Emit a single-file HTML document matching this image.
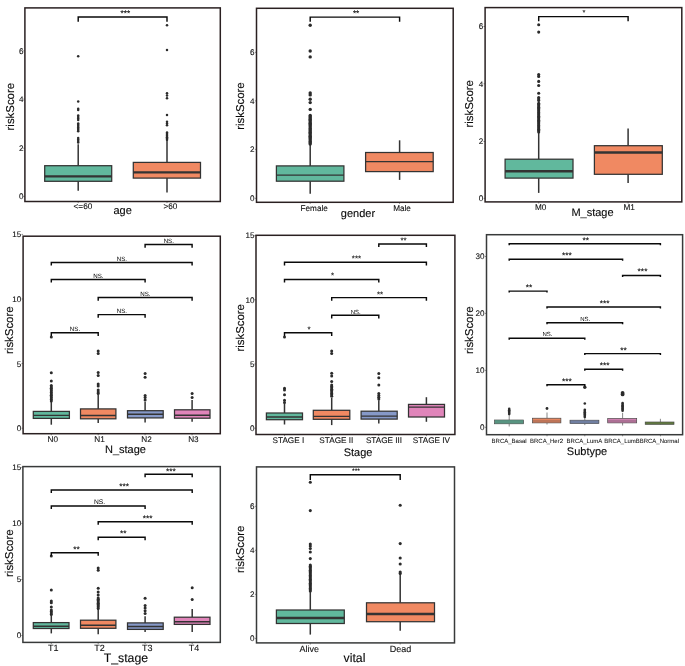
<!DOCTYPE html>
<html><head><meta charset="utf-8"><title>riskScore clinical boxplots</title>
<style>
html,body{margin:0;padding:0;background:#fff;}
svg{display:block;filter:blur(0.3px);text-rendering:geometricPrecision;font-family:"Liberation Sans",Arial,Helvetica,sans-serif;}
</style></head><body>
<svg width="685" height="666" viewBox="0 0 685 666">
<rect x="0" y="0" width="685" height="666" fill="#ffffff"/>
<text x="23.4" y="199.45" font-size="8.1" text-anchor="end" fill="#111" stroke="#111" stroke-width="0.1">0</text>
<line x1="23.3" y1="196.5" x2="24.9" y2="196.5" stroke="#444" stroke-width="0.6"/>
<text x="23.4" y="151.15" font-size="8.1" text-anchor="end" fill="#111" stroke="#111" stroke-width="0.1">2</text>
<line x1="23.3" y1="148.2" x2="24.9" y2="148.2" stroke="#444" stroke-width="0.6"/>
<text x="23.4" y="102.05" font-size="8.1" text-anchor="end" fill="#111" stroke="#111" stroke-width="0.1">4</text>
<line x1="23.3" y1="99.1" x2="24.9" y2="99.1" stroke="#444" stroke-width="0.6"/>
<text x="23.4" y="53.75" font-size="8.1" text-anchor="end" fill="#111" stroke="#111" stroke-width="0.1">6</text>
<line x1="23.3" y1="50.8" x2="24.9" y2="50.8" stroke="#444" stroke-width="0.6"/>
<line x1="78.2" y1="144.3" x2="78.2" y2="165.7" stroke="#333333" stroke-width="1.5"/>
<line x1="78.2" y1="181.3" x2="78.2" y2="190.7" stroke="#333333" stroke-width="1.5"/>
<rect x="44.7" y="165.7" width="67" height="15.6" fill="#61B89D" stroke="#333333" stroke-width="1.25"/>
<line x1="44.7" y1="176.3" x2="111.7" y2="176.3" stroke="#333333" stroke-width="2.2"/>
<line x1="78.2" y1="201.5" x2="78.2" y2="203.1" stroke="#444" stroke-width="0.6"/>
<line x1="167" y1="139.7" x2="167" y2="162.4" stroke="#333333" stroke-width="1.5"/>
<line x1="167" y1="178.1" x2="167" y2="192.5" stroke="#333333" stroke-width="1.5"/>
<rect x="133.3" y="162.4" width="67.2" height="15.7" fill="#F08962" stroke="#333333" stroke-width="1.25"/>
<line x1="133.3" y1="172.4" x2="200.5" y2="172.4" stroke="#333333" stroke-width="2.4"/>
<line x1="167" y1="201.5" x2="167" y2="203.1" stroke="#444" stroke-width="0.6"/>
<circle cx="78.2" cy="56.2" r="1.25" fill="#2b2b2b"/>
<circle cx="78.2" cy="101.6" r="1.25" fill="#2b2b2b"/>
<circle cx="78.2" cy="108.7" r="1.25" fill="#2b2b2b"/>
<circle cx="78.2" cy="110" r="1.25" fill="#2b2b2b"/>
<circle cx="78.2" cy="115.5" r="1.25" fill="#2b2b2b"/>
<circle cx="78.2" cy="117" r="1.25" fill="#2b2b2b"/>
<circle cx="78.2" cy="118.5" r="1.25" fill="#2b2b2b"/>
<circle cx="78.2" cy="120" r="1.25" fill="#2b2b2b"/>
<circle cx="78.2" cy="123.5" r="1.25" fill="#2b2b2b"/>
<circle cx="78.2" cy="124.8" r="1.25" fill="#2b2b2b"/>
<circle cx="78.2" cy="126.1" r="1.25" fill="#2b2b2b"/>
<circle cx="78.2" cy="127.4" r="1.25" fill="#2b2b2b"/>
<circle cx="78.2" cy="128.7" r="1.25" fill="#2b2b2b"/>
<circle cx="78.2" cy="130" r="1.25" fill="#2b2b2b"/>
<circle cx="78.2" cy="131.3" r="1.25" fill="#2b2b2b"/>
<circle cx="78.2" cy="138" r="1.25" fill="#2b2b2b"/>
<circle cx="78.2" cy="139.5" r="1.25" fill="#2b2b2b"/>
<circle cx="78.2" cy="141" r="1.25" fill="#2b2b2b"/>
<circle cx="78.2" cy="142.4" r="1.25" fill="#2b2b2b"/>
<circle cx="167" cy="25.2" r="1.25" fill="#2b2b2b"/>
<circle cx="167" cy="50.1" r="1.25" fill="#2b2b2b"/>
<circle cx="167" cy="93.3" r="1.25" fill="#2b2b2b"/>
<circle cx="167" cy="95.5" r="1.25" fill="#2b2b2b"/>
<circle cx="167" cy="98.2" r="1.25" fill="#2b2b2b"/>
<circle cx="167" cy="115" r="1.25" fill="#2b2b2b"/>
<circle cx="167" cy="121.7" r="1.25" fill="#2b2b2b"/>
<circle cx="167" cy="123.5" r="1.25" fill="#2b2b2b"/>
<circle cx="167" cy="125.3" r="1.25" fill="#2b2b2b"/>
<circle cx="167" cy="132.5" r="1.25" fill="#2b2b2b"/>
<circle cx="167" cy="133.7" r="1.25" fill="#2b2b2b"/>
<circle cx="167" cy="134.9" r="1.25" fill="#2b2b2b"/>
<circle cx="167" cy="136.1" r="1.25" fill="#2b2b2b"/>
<circle cx="167" cy="137.3" r="1.25" fill="#2b2b2b"/>
<circle cx="167" cy="138.5" r="1.25" fill="#2b2b2b"/>
<circle cx="167" cy="139.7" r="1.25" fill="#2b2b2b"/>
<path d="M78.2 21.7V16.9H167V21.7" fill="none" stroke="#0a0a0a" stroke-width="1.45"/>
<text x="125.3" y="16.17" font-size="8.2" text-anchor="middle" fill="#000" stroke="#000" stroke-width="0.08">***</text>
<text x="82.9" y="209.2" font-size="8.2" text-anchor="middle" fill="#111" stroke="#111" stroke-width="0.1">&lt;=60</text>
<text x="170.4" y="209.2" font-size="8.2" text-anchor="middle" fill="#111" stroke="#111" stroke-width="0.1">&gt;60</text>
<text x="122.6" y="213.6" font-size="11" text-anchor="middle" fill="#0a0a0a" stroke="#0a0a0a" stroke-width="0.12">age</text>
<text transform="translate(13.5 106.7) rotate(-90)" font-size="11.4" text-anchor="middle" fill="#0a0a0a" stroke="#0a0a0a" stroke-width="0.12">riskScore</text>
<rect x="24.9" y="7.9" width="195.4" height="193.6" fill="none" stroke="#2a2021" stroke-width="1.5"/>
<text x="254.4" y="201.25" font-size="8.1" text-anchor="end" fill="#111" stroke="#111" stroke-width="0.1">0</text>
<line x1="254.9" y1="198.3" x2="256.5" y2="198.3" stroke="#444" stroke-width="0.6"/>
<text x="254.4" y="152.25" font-size="8.1" text-anchor="end" fill="#111" stroke="#111" stroke-width="0.1">2</text>
<line x1="254.9" y1="149.3" x2="256.5" y2="149.3" stroke="#444" stroke-width="0.6"/>
<text x="254.4" y="103.85" font-size="8.1" text-anchor="end" fill="#111" stroke="#111" stroke-width="0.1">4</text>
<line x1="254.9" y1="100.9" x2="256.5" y2="100.9" stroke="#444" stroke-width="0.6"/>
<text x="254.4" y="55.25" font-size="8.1" text-anchor="end" fill="#111" stroke="#111" stroke-width="0.1">6</text>
<line x1="254.9" y1="52.3" x2="256.5" y2="52.3" stroke="#444" stroke-width="0.6"/>
<line x1="310.2" y1="144.2" x2="310.2" y2="165.9" stroke="#333333" stroke-width="1.5"/>
<line x1="310.2" y1="181.2" x2="310.2" y2="193.8" stroke="#333333" stroke-width="1.5"/>
<rect x="276.4" y="165.9" width="67.5" height="15.3" fill="#61B89D" stroke="#333333" stroke-width="1.25"/>
<line x1="276.4" y1="175.2" x2="343.9" y2="175.2" stroke="#333333" stroke-width="1.3"/>
<line x1="310.2" y1="202.3" x2="310.2" y2="203.9" stroke="#444" stroke-width="0.6"/>
<line x1="399.6" y1="140.3" x2="399.6" y2="152.5" stroke="#333333" stroke-width="1.5"/>
<line x1="399.6" y1="171.6" x2="399.6" y2="179.9" stroke="#333333" stroke-width="1.5"/>
<rect x="365.6" y="152.5" width="67.6" height="19.1" fill="#F08962" stroke="#333333" stroke-width="1.25"/>
<line x1="365.6" y1="161.7" x2="433.2" y2="161.7" stroke="#333333" stroke-width="1.3"/>
<line x1="399.6" y1="202.3" x2="399.6" y2="203.9" stroke="#444" stroke-width="0.6"/>
<circle cx="310.2" cy="25.2" r="1.7" fill="#2b2b2b"/>
<circle cx="310.2" cy="51" r="1.7" fill="#2b2b2b"/>
<circle cx="310.2" cy="56.9" r="1.7" fill="#2b2b2b"/>
<circle cx="310.2" cy="93" r="1.7" fill="#2b2b2b"/>
<circle cx="310.2" cy="94.9" r="1.7" fill="#2b2b2b"/>
<circle cx="310.2" cy="99.2" r="1.7" fill="#2b2b2b"/>
<circle cx="310.2" cy="102.6" r="1.7" fill="#2b2b2b"/>
<circle cx="310.2" cy="109.4" r="1.7" fill="#2b2b2b"/>
<circle cx="310.2" cy="115.4" r="1.7" fill="#2b2b2b"/>
<circle cx="310.2" cy="116.7" r="1.7" fill="#2b2b2b"/>
<circle cx="310.2" cy="118" r="1.7" fill="#2b2b2b"/>
<circle cx="310.2" cy="119.3" r="1.7" fill="#2b2b2b"/>
<circle cx="310.2" cy="120.6" r="1.7" fill="#2b2b2b"/>
<circle cx="310.2" cy="121.9" r="1.7" fill="#2b2b2b"/>
<circle cx="310.2" cy="123.2" r="1.7" fill="#2b2b2b"/>
<circle cx="310.2" cy="124.5" r="1.7" fill="#2b2b2b"/>
<circle cx="310.2" cy="125.8" r="1.7" fill="#2b2b2b"/>
<circle cx="310.2" cy="127.1" r="1.7" fill="#2b2b2b"/>
<circle cx="310.2" cy="128.4" r="1.7" fill="#2b2b2b"/>
<circle cx="310.2" cy="129.7" r="1.7" fill="#2b2b2b"/>
<circle cx="310.2" cy="131" r="1.7" fill="#2b2b2b"/>
<circle cx="310.2" cy="132.3" r="1.7" fill="#2b2b2b"/>
<circle cx="310.2" cy="133.6" r="1.7" fill="#2b2b2b"/>
<circle cx="310.2" cy="134.9" r="1.7" fill="#2b2b2b"/>
<circle cx="310.2" cy="136.2" r="1.7" fill="#2b2b2b"/>
<circle cx="310.2" cy="137.5" r="1.7" fill="#2b2b2b"/>
<circle cx="310.2" cy="138.8" r="1.7" fill="#2b2b2b"/>
<circle cx="310.2" cy="140.1" r="1.7" fill="#2b2b2b"/>
<circle cx="310.2" cy="141.4" r="1.7" fill="#2b2b2b"/>
<circle cx="310.2" cy="142.7" r="1.7" fill="#2b2b2b"/>
<circle cx="310.2" cy="144" r="1.7" fill="#2b2b2b"/>
<path d="M310.2 21.7V17.1H399.6V21.7" fill="none" stroke="#0a0a0a" stroke-width="1.45"/>
<text x="356.1" y="16.17" font-size="8.2" text-anchor="middle" fill="#000" stroke="#000" stroke-width="0.08">**</text>
<text x="314.2" y="211.3" font-size="8.2" text-anchor="middle" fill="#111" stroke="#111" stroke-width="0.1">Female</text>
<text x="402" y="211.3" font-size="8.2" text-anchor="middle" fill="#111" stroke="#111" stroke-width="0.1">Male</text>
<text x="358" y="216.8" font-size="11" text-anchor="middle" fill="#0a0a0a" stroke="#0a0a0a" stroke-width="0.12">gender</text>
<text transform="translate(244.4 106.1) rotate(-90)" font-size="11.4" text-anchor="middle" fill="#0a0a0a" stroke="#0a0a0a" stroke-width="0.12">riskScore</text>
<rect x="256.5" y="8.3" width="196.7" height="194" fill="none" stroke="#2a2021" stroke-width="1.5"/>
<text x="483.2" y="201.25" font-size="8.1" text-anchor="end" fill="#111" stroke="#111" stroke-width="0.1">0</text>
<line x1="483.5" y1="198.3" x2="485.1" y2="198.3" stroke="#444" stroke-width="0.6"/>
<text x="483.2" y="144.45" font-size="8.1" text-anchor="end" fill="#111" stroke="#111" stroke-width="0.1">2</text>
<line x1="483.5" y1="141.5" x2="485.1" y2="141.5" stroke="#444" stroke-width="0.6"/>
<text x="483.2" y="86.75" font-size="8.1" text-anchor="end" fill="#111" stroke="#111" stroke-width="0.1">4</text>
<line x1="483.5" y1="83.8" x2="485.1" y2="83.8" stroke="#444" stroke-width="0.6"/>
<text x="483.2" y="29.45" font-size="8.1" text-anchor="end" fill="#111" stroke="#111" stroke-width="0.1">6</text>
<line x1="483.5" y1="26.5" x2="485.1" y2="26.5" stroke="#444" stroke-width="0.6"/>
<line x1="538.7" y1="132.5" x2="538.7" y2="159.2" stroke="#333333" stroke-width="1.5"/>
<line x1="538.7" y1="178.1" x2="538.7" y2="192.9" stroke="#333333" stroke-width="1.5"/>
<rect x="505.1" y="159.2" width="67.9" height="18.9" fill="#61B89D" stroke="#333333" stroke-width="1.25"/>
<line x1="505.1" y1="171.3" x2="573" y2="171.3" stroke="#333333" stroke-width="2.5"/>
<line x1="538.7" y1="201.9" x2="538.7" y2="203.5" stroke="#444" stroke-width="0.6"/>
<line x1="628.1" y1="128.6" x2="628.1" y2="145.7" stroke="#333333" stroke-width="1.5"/>
<line x1="628.1" y1="174.3" x2="628.1" y2="183" stroke="#333333" stroke-width="1.5"/>
<rect x="594.4" y="145.7" width="67.9" height="28.6" fill="#F08962" stroke="#333333" stroke-width="1.25"/>
<line x1="594.4" y1="152.5" x2="662.3" y2="152.5" stroke="#333333" stroke-width="2.5"/>
<line x1="628.1" y1="201.9" x2="628.1" y2="203.5" stroke="#444" stroke-width="0.6"/>
<circle cx="538.7" cy="24.7" r="1.55" fill="#2b2b2b"/>
<circle cx="538.7" cy="32.1" r="1.55" fill="#2b2b2b"/>
<circle cx="538.7" cy="74.6" r="1.55" fill="#2b2b2b"/>
<circle cx="538.7" cy="76.4" r="1.55" fill="#2b2b2b"/>
<circle cx="538.7" cy="81.4" r="1.55" fill="#2b2b2b"/>
<circle cx="538.7" cy="85.5" r="1.55" fill="#2b2b2b"/>
<circle cx="538.7" cy="93.2" r="1.55" fill="#2b2b2b"/>
<circle cx="538.7" cy="97.5" r="1.55" fill="#2b2b2b"/>
<circle cx="538.7" cy="99" r="1.55" fill="#2b2b2b"/>
<circle cx="538.7" cy="100.5" r="1.55" fill="#2b2b2b"/>
<circle cx="538.7" cy="103.3" r="1.55" fill="#2b2b2b"/>
<circle cx="538.7" cy="104.6" r="1.55" fill="#2b2b2b"/>
<circle cx="538.7" cy="105.9" r="1.55" fill="#2b2b2b"/>
<circle cx="538.7" cy="107.2" r="1.55" fill="#2b2b2b"/>
<circle cx="538.7" cy="108.5" r="1.55" fill="#2b2b2b"/>
<circle cx="538.7" cy="109.8" r="1.55" fill="#2b2b2b"/>
<circle cx="538.7" cy="111.1" r="1.55" fill="#2b2b2b"/>
<circle cx="538.7" cy="112.4" r="1.55" fill="#2b2b2b"/>
<circle cx="538.7" cy="113.7" r="1.55" fill="#2b2b2b"/>
<circle cx="538.7" cy="115" r="1.55" fill="#2b2b2b"/>
<circle cx="538.7" cy="116.3" r="1.55" fill="#2b2b2b"/>
<circle cx="538.7" cy="117.6" r="1.55" fill="#2b2b2b"/>
<circle cx="538.7" cy="118.9" r="1.55" fill="#2b2b2b"/>
<circle cx="538.7" cy="120.2" r="1.55" fill="#2b2b2b"/>
<circle cx="538.7" cy="121.5" r="1.55" fill="#2b2b2b"/>
<circle cx="538.7" cy="122.8" r="1.55" fill="#2b2b2b"/>
<circle cx="538.7" cy="124.1" r="1.55" fill="#2b2b2b"/>
<circle cx="538.7" cy="125.4" r="1.55" fill="#2b2b2b"/>
<circle cx="538.7" cy="126.7" r="1.55" fill="#2b2b2b"/>
<circle cx="538.7" cy="128" r="1.55" fill="#2b2b2b"/>
<circle cx="538.7" cy="129.3" r="1.55" fill="#2b2b2b"/>
<circle cx="538.7" cy="130.6" r="1.55" fill="#2b2b2b"/>
<circle cx="538.7" cy="131.9" r="1.55" fill="#2b2b2b"/>
<path d="M538.7 21.3V16.6H628.1V21.3" fill="none" stroke="#0a0a0a" stroke-width="1.45"/>
<text x="584" y="15.32" font-size="7.4" text-anchor="middle" fill="#000" stroke="#000" stroke-width="0.08">*</text>
<text x="540.6" y="210" font-size="8.2" text-anchor="middle" fill="#111" stroke="#111" stroke-width="0.1">M0</text>
<text x="629.1" y="210" font-size="8.2" text-anchor="middle" fill="#111" stroke="#111" stroke-width="0.1">M1</text>
<text x="592.5" y="215.6" font-size="11" text-anchor="middle" fill="#0a0a0a" stroke="#0a0a0a" stroke-width="0.12">M_stage</text>
<text transform="translate(473.3 103.8) rotate(-90)" font-size="11.4" text-anchor="middle" fill="#0a0a0a" stroke="#0a0a0a" stroke-width="0.12">riskScore</text>
<rect x="485.1" y="7.6" width="196.7" height="194.3" fill="none" stroke="#2a2021" stroke-width="1.5"/>
<text x="21.3" y="237.35" font-size="8.1" text-anchor="end" fill="#111" stroke="#111" stroke-width="0.1">15</text>
<line x1="21.5" y1="234.4" x2="23.1" y2="234.4" stroke="#444" stroke-width="0.6"/>
<text x="21.3" y="301.95" font-size="8.1" text-anchor="end" fill="#111" stroke="#111" stroke-width="0.1">10</text>
<line x1="21.5" y1="299" x2="23.1" y2="299" stroke="#444" stroke-width="0.6"/>
<text x="21.3" y="366.55" font-size="8.1" text-anchor="end" fill="#111" stroke="#111" stroke-width="0.1">5</text>
<line x1="21.5" y1="363.6" x2="23.1" y2="363.6" stroke="#444" stroke-width="0.6"/>
<text x="21.3" y="431.15" font-size="8.1" text-anchor="end" fill="#111" stroke="#111" stroke-width="0.1">0</text>
<line x1="21.5" y1="428.2" x2="23.1" y2="428.2" stroke="#444" stroke-width="0.6"/>
<line x1="51.3" y1="401.7" x2="51.3" y2="411.4" stroke="#333333" stroke-width="1.5"/>
<line x1="51.3" y1="418.4" x2="51.3" y2="424.7" stroke="#333333" stroke-width="1.5"/>
<rect x="33.3" y="411.4" width="36.1" height="7" fill="#61B89D" stroke="#333333" stroke-width="1.25"/>
<line x1="33.3" y1="415.4" x2="69.4" y2="415.4" stroke="#333333" stroke-width="1.4"/>
<line x1="51.3" y1="433.7" x2="51.3" y2="435.3" stroke="#444" stroke-width="0.6"/>
<line x1="98.2" y1="394.5" x2="98.2" y2="408.9" stroke="#333333" stroke-width="1.5"/>
<line x1="98.2" y1="418.8" x2="98.2" y2="422.9" stroke="#333333" stroke-width="1.5"/>
<rect x="80.5" y="408.9" width="35.4" height="9.9" fill="#F08962" stroke="#333333" stroke-width="1.25"/>
<line x1="80.5" y1="415.5" x2="115.9" y2="415.5" stroke="#333333" stroke-width="1.4"/>
<line x1="98.2" y1="433.7" x2="98.2" y2="435.3" stroke="#444" stroke-width="0.6"/>
<line x1="145.1" y1="401.7" x2="145.1" y2="410.7" stroke="#333333" stroke-width="1.5"/>
<line x1="145.1" y1="417.9" x2="145.1" y2="422.4" stroke="#333333" stroke-width="1.5"/>
<rect x="127.5" y="410.7" width="35.7" height="7.2" fill="#8699C8" stroke="#333333" stroke-width="1.25"/>
<line x1="127.5" y1="414.3" x2="163.2" y2="414.3" stroke="#333333" stroke-width="1.4"/>
<line x1="145.1" y1="433.7" x2="145.1" y2="435.3" stroke="#444" stroke-width="0.6"/>
<line x1="192.1" y1="399.9" x2="192.1" y2="409.8" stroke="#333333" stroke-width="1.5"/>
<line x1="192.1" y1="418.2" x2="192.1" y2="421.8" stroke="#333333" stroke-width="1.5"/>
<rect x="174.5" y="409.8" width="35.5" height="8.4" fill="#E085BA" stroke="#333333" stroke-width="1.25"/>
<line x1="174.5" y1="415.2" x2="210" y2="415.2" stroke="#333333" stroke-width="1.4"/>
<line x1="192.1" y1="433.7" x2="192.1" y2="435.3" stroke="#444" stroke-width="0.6"/>
<circle cx="51.3" cy="337.1" r="1.5" fill="#2b2b2b"/>
<circle cx="51.3" cy="372.8" r="1.5" fill="#2b2b2b"/>
<circle cx="51.3" cy="380.9" r="1.5" fill="#2b2b2b"/>
<circle cx="51.3" cy="385.5" r="1.5" fill="#2b2b2b"/>
<circle cx="51.3" cy="386.9" r="1.5" fill="#2b2b2b"/>
<circle cx="51.3" cy="388.3" r="1.5" fill="#2b2b2b"/>
<circle cx="51.3" cy="389.7" r="1.5" fill="#2b2b2b"/>
<circle cx="51.3" cy="391.1" r="1.5" fill="#2b2b2b"/>
<circle cx="51.3" cy="392.5" r="1.5" fill="#2b2b2b"/>
<circle cx="51.3" cy="393.9" r="1.5" fill="#2b2b2b"/>
<circle cx="51.3" cy="395.3" r="1.5" fill="#2b2b2b"/>
<circle cx="51.3" cy="396.7" r="1.5" fill="#2b2b2b"/>
<circle cx="51.3" cy="398.1" r="1.5" fill="#2b2b2b"/>
<circle cx="51.3" cy="399.5" r="1.5" fill="#2b2b2b"/>
<circle cx="51.3" cy="400.9" r="1.5" fill="#2b2b2b"/>
<circle cx="98.2" cy="350.9" r="1.5" fill="#2b2b2b"/>
<circle cx="98.2" cy="353.4" r="1.5" fill="#2b2b2b"/>
<circle cx="98.2" cy="372.5" r="1.5" fill="#2b2b2b"/>
<circle cx="98.2" cy="375.5" r="1.5" fill="#2b2b2b"/>
<circle cx="98.2" cy="384" r="1.5" fill="#2b2b2b"/>
<circle cx="98.2" cy="386" r="1.5" fill="#2b2b2b"/>
<circle cx="98.2" cy="390" r="1.5" fill="#2b2b2b"/>
<circle cx="98.2" cy="392" r="1.5" fill="#2b2b2b"/>
<circle cx="98.2" cy="393.6" r="1.5" fill="#2b2b2b"/>
<circle cx="145.1" cy="373.4" r="1.5" fill="#2b2b2b"/>
<circle cx="145.1" cy="377.3" r="1.5" fill="#2b2b2b"/>
<circle cx="145.1" cy="395.4" r="1.5" fill="#2b2b2b"/>
<circle cx="145.1" cy="397.5" r="1.5" fill="#2b2b2b"/>
<circle cx="145.1" cy="399.9" r="1.5" fill="#2b2b2b"/>
<circle cx="192.1" cy="393.6" r="1.5" fill="#2b2b2b"/>
<circle cx="192.1" cy="397.5" r="1.5" fill="#2b2b2b"/>
<path d="M51.3 335.9V332.7H98.2V335.9" fill="none" stroke="#0a0a0a" stroke-width="1.45"/>
<text x="74.95" y="331.1" font-size="6.2" text-anchor="middle" fill="#000" stroke="#000" stroke-width="0">NS.</text>
<path d="M98.2 317.8V314.6H145.1V317.8" fill="none" stroke="#0a0a0a" stroke-width="1.45"/>
<text x="121.85" y="313" font-size="6.2" text-anchor="middle" fill="#000" stroke="#000" stroke-width="0">NS.</text>
<path d="M98.2 300.7V297.5H192.1V300.7" fill="none" stroke="#0a0a0a" stroke-width="1.45"/>
<text x="145.35" y="295.9" font-size="6.2" text-anchor="middle" fill="#000" stroke="#000" stroke-width="0">NS.</text>
<path d="M51.3 282.6V279.4H145.1V282.6" fill="none" stroke="#0a0a0a" stroke-width="1.45"/>
<text x="98.4" y="277.8" font-size="6.2" text-anchor="middle" fill="#000" stroke="#000" stroke-width="0">NS.</text>
<path d="M51.3 265.6V262.4H192.1V265.6" fill="none" stroke="#0a0a0a" stroke-width="1.45"/>
<text x="121.9" y="260.8" font-size="6.2" text-anchor="middle" fill="#000" stroke="#000" stroke-width="0">NS.</text>
<path d="M145.1 247.7V244.5H192.1V247.7" fill="none" stroke="#0a0a0a" stroke-width="1.45"/>
<text x="168.8" y="242.9" font-size="6.2" text-anchor="middle" fill="#000" stroke="#000" stroke-width="0">NS.</text>
<text x="52.8" y="441.6" font-size="8.2" text-anchor="middle" fill="#111" stroke="#111" stroke-width="0.1">N0</text>
<text x="99.5" y="441.6" font-size="8.2" text-anchor="middle" fill="#111" stroke="#111" stroke-width="0.1">N1</text>
<text x="146.6" y="441.6" font-size="8.2" text-anchor="middle" fill="#111" stroke="#111" stroke-width="0.1">N2</text>
<text x="193.4" y="441.6" font-size="8.2" text-anchor="middle" fill="#111" stroke="#111" stroke-width="0.1">N3</text>
<text x="125.5" y="452.9" font-size="11" text-anchor="middle" fill="#0a0a0a" stroke="#0a0a0a" stroke-width="0.12">N_stage</text>
<text transform="translate(13.2 330.2) rotate(-90)" font-size="11.4" text-anchor="middle" fill="#0a0a0a" stroke="#0a0a0a" stroke-width="0.12">riskScore</text>
<rect x="23.1" y="236.2" width="197.2" height="197.5" fill="none" stroke="#2a2021" stroke-width="1.5"/>
<text x="254.4" y="238.45" font-size="8.1" text-anchor="end" fill="#111" stroke="#111" stroke-width="0.1">15</text>
<line x1="254.4" y1="235.5" x2="256" y2="235.5" stroke="#444" stroke-width="0.6"/>
<text x="254.4" y="302.65" font-size="8.1" text-anchor="end" fill="#111" stroke="#111" stroke-width="0.1">10</text>
<line x1="254.4" y1="299.7" x2="256" y2="299.7" stroke="#444" stroke-width="0.6"/>
<text x="254.4" y="366.95" font-size="8.1" text-anchor="end" fill="#111" stroke="#111" stroke-width="0.1">5</text>
<line x1="254.4" y1="364" x2="256" y2="364" stroke="#444" stroke-width="0.6"/>
<text x="254.4" y="431.15" font-size="8.1" text-anchor="end" fill="#111" stroke="#111" stroke-width="0.1">0</text>
<line x1="254.4" y1="428.2" x2="256" y2="428.2" stroke="#444" stroke-width="0.6"/>
<line x1="284.5" y1="403.5" x2="284.5" y2="413" stroke="#333333" stroke-width="1.5"/>
<line x1="284.5" y1="419.7" x2="284.5" y2="424.5" stroke="#333333" stroke-width="1.5"/>
<rect x="266.4" y="413" width="36.1" height="6.7" fill="#61B89D" stroke="#333333" stroke-width="1.25"/>
<line x1="266.4" y1="417" x2="302.5" y2="417" stroke="#333333" stroke-width="1.4"/>
<line x1="284.5" y1="434.5" x2="284.5" y2="436.1" stroke="#444" stroke-width="0.6"/>
<line x1="331.7" y1="398" x2="331.7" y2="410.3" stroke="#333333" stroke-width="1.5"/>
<line x1="331.7" y1="419.3" x2="331.7" y2="425.1" stroke="#333333" stroke-width="1.5"/>
<rect x="313.3" y="410.3" width="36.5" height="9" fill="#F08962" stroke="#333333" stroke-width="1.25"/>
<line x1="313.3" y1="416.4" x2="349.8" y2="416.4" stroke="#333333" stroke-width="1.4"/>
<line x1="331.7" y1="434.5" x2="331.7" y2="436.1" stroke="#444" stroke-width="0.6"/>
<line x1="378.8" y1="400.2" x2="378.8" y2="411.2" stroke="#333333" stroke-width="1.5"/>
<line x1="378.8" y1="419.1" x2="378.8" y2="423.6" stroke="#333333" stroke-width="1.5"/>
<rect x="361.1" y="411.2" width="36.1" height="7.9" fill="#8699C8" stroke="#333333" stroke-width="1.25"/>
<line x1="361.1" y1="416.1" x2="397.2" y2="416.1" stroke="#333333" stroke-width="1.4"/>
<line x1="378.8" y1="434.5" x2="378.8" y2="436.1" stroke="#444" stroke-width="0.6"/>
<line x1="426.4" y1="397.2" x2="426.4" y2="404.4" stroke="#333333" stroke-width="1.5"/>
<line x1="426.4" y1="417" x2="426.4" y2="421.8" stroke="#333333" stroke-width="1.5"/>
<rect x="408.5" y="404.4" width="36" height="12.6" fill="#E085BA" stroke="#333333" stroke-width="1.25"/>
<line x1="408.5" y1="407.1" x2="444.5" y2="407.1" stroke="#333333" stroke-width="1.4"/>
<line x1="426.4" y1="434.5" x2="426.4" y2="436.1" stroke="#444" stroke-width="0.6"/>
<circle cx="284.5" cy="337.1" r="1.5" fill="#2b2b2b"/>
<circle cx="284.5" cy="388.2" r="1.5" fill="#2b2b2b"/>
<circle cx="284.5" cy="390" r="1.5" fill="#2b2b2b"/>
<circle cx="284.5" cy="394.8" r="1.5" fill="#2b2b2b"/>
<circle cx="284.5" cy="400.2" r="1.5" fill="#2b2b2b"/>
<circle cx="284.5" cy="402.6" r="1.5" fill="#2b2b2b"/>
<circle cx="331.7" cy="350.9" r="1.5" fill="#2b2b2b"/>
<circle cx="331.7" cy="353.4" r="1.5" fill="#2b2b2b"/>
<circle cx="331.7" cy="373.2" r="1.5" fill="#2b2b2b"/>
<circle cx="331.7" cy="376.1" r="1.5" fill="#2b2b2b"/>
<circle cx="331.7" cy="381.5" r="1.5" fill="#2b2b2b"/>
<circle cx="331.7" cy="385" r="1.5" fill="#2b2b2b"/>
<circle cx="331.7" cy="386.4" r="1.5" fill="#2b2b2b"/>
<circle cx="331.7" cy="387.8" r="1.5" fill="#2b2b2b"/>
<circle cx="331.7" cy="389.2" r="1.5" fill="#2b2b2b"/>
<circle cx="331.7" cy="390.6" r="1.5" fill="#2b2b2b"/>
<circle cx="331.7" cy="392" r="1.5" fill="#2b2b2b"/>
<circle cx="331.7" cy="393.4" r="1.5" fill="#2b2b2b"/>
<circle cx="331.7" cy="394.8" r="1.5" fill="#2b2b2b"/>
<circle cx="331.7" cy="396.2" r="1.5" fill="#2b2b2b"/>
<circle cx="378.8" cy="373.4" r="1.5" fill="#2b2b2b"/>
<circle cx="378.8" cy="377.7" r="1.5" fill="#2b2b2b"/>
<circle cx="378.8" cy="384.9" r="1.5" fill="#2b2b2b"/>
<circle cx="378.8" cy="393.6" r="1.5" fill="#2b2b2b"/>
<circle cx="378.8" cy="395.4" r="1.5" fill="#2b2b2b"/>
<circle cx="378.8" cy="397.2" r="1.5" fill="#2b2b2b"/>
<circle cx="378.8" cy="399" r="1.5" fill="#2b2b2b"/>
<path d="M284.5 335.9V332.7H331.7V335.9" fill="none" stroke="#0a0a0a" stroke-width="1.45"/>
<text x="309.1" y="331.7" font-size="7.9" text-anchor="middle" fill="#000" stroke="#000" stroke-width="0.08">*</text>
<path d="M331.7 318.5V315.3H378.8V318.5" fill="none" stroke="#0a0a0a" stroke-width="1.45"/>
<text x="355.75" y="313.75" font-size="6.0" text-anchor="middle" fill="#000" stroke="#000" stroke-width="0">NS.</text>
<path d="M331.7 300.8V297.6H426.4V300.8" fill="none" stroke="#0a0a0a" stroke-width="1.45"/>
<text x="380.05" y="296.6" font-size="7.9" text-anchor="middle" fill="#000" stroke="#000" stroke-width="0.08">**</text>
<path d="M284.5 282.6V279.4H378.8V282.6" fill="none" stroke="#0a0a0a" stroke-width="1.45"/>
<text x="332.65" y="278.4" font-size="7.9" text-anchor="middle" fill="#000" stroke="#000" stroke-width="0.08">*</text>
<path d="M284.5 265.5V262.3H426.4V265.5" fill="none" stroke="#0a0a0a" stroke-width="1.45"/>
<text x="356.45" y="261.3" font-size="7.9" text-anchor="middle" fill="#000" stroke="#000" stroke-width="0.08">***</text>
<path d="M378.8 247.1V243.9H426.4V247.1" fill="none" stroke="#0a0a0a" stroke-width="1.45"/>
<text x="403.6" y="242.9" font-size="7.9" text-anchor="middle" fill="#000" stroke="#000" stroke-width="0.08">**</text>
<text x="288.4" y="443.2" font-size="8.2" text-anchor="middle" fill="#111" stroke="#111" stroke-width="0.1">STAGE I</text>
<text x="336.3" y="443.2" font-size="8.2" text-anchor="middle" fill="#111" stroke="#111" stroke-width="0.1">STAGE II</text>
<text x="384" y="443.2" font-size="8.2" text-anchor="middle" fill="#111" stroke="#111" stroke-width="0.1">STAGE III</text>
<text x="431.4" y="443.2" font-size="8.2" text-anchor="middle" fill="#111" stroke="#111" stroke-width="0.1">STAGE IV</text>
<text x="358" y="455.6" font-size="11" text-anchor="middle" fill="#0a0a0a" stroke="#0a0a0a" stroke-width="0.12">Stage</text>
<text transform="translate(243.9 327.8) rotate(-90)" font-size="11.4" text-anchor="middle" fill="#0a0a0a" stroke="#0a0a0a" stroke-width="0.12">riskScore</text>
<rect x="256" y="235.3" width="198.9" height="199.2" fill="none" stroke="#2a2021" stroke-width="1.5"/>
<text x="484.6" y="259.45" font-size="8.1" text-anchor="end" fill="#111" stroke="#111" stroke-width="0.1">30</text>
<line x1="484.9" y1="256.5" x2="486.5" y2="256.5" stroke="#444" stroke-width="0.6"/>
<text x="484.6" y="316.35" font-size="8.1" text-anchor="end" fill="#111" stroke="#111" stroke-width="0.1">20</text>
<line x1="484.9" y1="313.4" x2="486.5" y2="313.4" stroke="#444" stroke-width="0.6"/>
<text x="484.6" y="373.35" font-size="8.1" text-anchor="end" fill="#111" stroke="#111" stroke-width="0.1">10</text>
<line x1="484.9" y1="370.4" x2="486.5" y2="370.4" stroke="#444" stroke-width="0.6"/>
<text x="484.6" y="430.25" font-size="8.1" text-anchor="end" fill="#111" stroke="#111" stroke-width="0.1">0</text>
<line x1="484.9" y1="427.3" x2="486.5" y2="427.3" stroke="#444" stroke-width="0.6"/>
<line x1="509.2" y1="415.2" x2="509.2" y2="420" stroke="#555" stroke-width="0.7"/>
<line x1="509.2" y1="423.8" x2="509.2" y2="426.5" stroke="#555" stroke-width="0.7"/>
<rect x="494.6" y="420" width="28.9" height="3.8" fill="#5fae95" stroke="#444" stroke-width="0.65"/>
<line x1="494.6" y1="422" x2="523.5" y2="422" stroke="#444" stroke-width="0.5"/>
<line x1="509.2" y1="434.7" x2="509.2" y2="436.3" stroke="#444" stroke-width="0.6"/>
<line x1="547" y1="412.5" x2="547" y2="418.2" stroke="#555" stroke-width="0.7"/>
<line x1="547" y1="422.9" x2="547" y2="424.5" stroke="#555" stroke-width="0.7"/>
<rect x="532.5" y="418.2" width="28.4" height="4.7" fill="#e6855f" stroke="#444" stroke-width="0.65"/>
<line x1="532.5" y1="421" x2="560.9" y2="421" stroke="#444" stroke-width="0.5"/>
<line x1="547" y1="434.7" x2="547" y2="436.3" stroke="#444" stroke-width="0.6"/>
<line x1="584.8" y1="417.9" x2="584.8" y2="420.2" stroke="#555" stroke-width="0.7"/>
<line x1="584.8" y1="423.6" x2="584.8" y2="425.1" stroke="#555" stroke-width="0.7"/>
<rect x="570" y="420.2" width="28.9" height="3.4" fill="#7f92c0" stroke="#444" stroke-width="0.65"/>
<line x1="570" y1="422" x2="598.9" y2="422" stroke="#444" stroke-width="0.5"/>
<line x1="584.8" y1="434.7" x2="584.8" y2="436.3" stroke="#444" stroke-width="0.6"/>
<line x1="622.6" y1="412.8" x2="622.6" y2="418.4" stroke="#555" stroke-width="0.7"/>
<line x1="622.6" y1="422.9" x2="622.6" y2="425.5" stroke="#555" stroke-width="0.7"/>
<rect x="607.7" y="418.4" width="29" height="4.5" fill="#d07fb0" stroke="#444" stroke-width="0.65"/>
<line x1="607.7" y1="421" x2="636.7" y2="421" stroke="#444" stroke-width="0.5"/>
<line x1="622.6" y1="434.7" x2="622.6" y2="436.3" stroke="#444" stroke-width="0.6"/>
<line x1="660.4" y1="418.8" x2="660.4" y2="422" stroke="#555" stroke-width="0.7"/>
<line x1="660.4" y1="424.4" x2="660.4" y2="424.7" stroke="#555" stroke-width="0.7"/>
<rect x="645.2" y="422" width="28.8" height="2.4" fill="#6E9141" stroke="#444" stroke-width="0.65"/>
<line x1="645.2" y1="423.2" x2="674" y2="423.2" stroke="#444" stroke-width="0.5"/>
<line x1="660.4" y1="434.7" x2="660.4" y2="436.3" stroke="#444" stroke-width="0.6"/>
<circle cx="509.2" cy="408.9" r="1.3" fill="#2b2b2b"/>
<circle cx="509.2" cy="410.2" r="1.3" fill="#2b2b2b"/>
<circle cx="509.2" cy="411.5" r="1.3" fill="#2b2b2b"/>
<circle cx="509.2" cy="412.8" r="1.3" fill="#2b2b2b"/>
<circle cx="509.2" cy="414.1" r="1.3" fill="#2b2b2b"/>
<circle cx="547" cy="408.5" r="1.4" fill="#2b2b2b"/>
<circle cx="584.8" cy="387.3" r="1.7" fill="#2b2b2b"/>
<circle cx="584.8" cy="403.5" r="1.3" fill="#2b2b2b"/>
<circle cx="584.8" cy="409.8" r="1.3" fill="#2b2b2b"/>
<circle cx="584.8" cy="411" r="1.3" fill="#2b2b2b"/>
<circle cx="584.8" cy="412.2" r="1.3" fill="#2b2b2b"/>
<circle cx="584.8" cy="413.4" r="1.3" fill="#2b2b2b"/>
<circle cx="584.8" cy="414.6" r="1.3" fill="#2b2b2b"/>
<circle cx="584.8" cy="415.8" r="1.3" fill="#2b2b2b"/>
<circle cx="584.8" cy="417" r="1.3" fill="#2b2b2b"/>
<circle cx="622.6" cy="393" r="1.9" fill="#2b2b2b"/>
<circle cx="622.6" cy="394.4" r="1.9" fill="#2b2b2b"/>
<circle cx="622.6" cy="403" r="1.3" fill="#2b2b2b"/>
<circle cx="622.6" cy="404.1" r="1.3" fill="#2b2b2b"/>
<circle cx="622.6" cy="405.2" r="1.3" fill="#2b2b2b"/>
<circle cx="622.6" cy="406.3" r="1.3" fill="#2b2b2b"/>
<circle cx="622.6" cy="407.4" r="1.3" fill="#2b2b2b"/>
<circle cx="622.6" cy="408.5" r="1.3" fill="#2b2b2b"/>
<circle cx="622.6" cy="409.6" r="1.3" fill="#2b2b2b"/>
<circle cx="622.6" cy="410.7" r="1.3" fill="#2b2b2b"/>
<path d="M509.2 245.2V243.7H660.4V245.2" fill="none" stroke="#0a0a0a" stroke-width="1.45"/>
<text x="585.8" y="242.69" font-size="8.4" text-anchor="middle" fill="#000" stroke="#000" stroke-width="0.08">**</text>
<path d="M509.2 260.7V259.2H622.6V260.7" fill="none" stroke="#0a0a0a" stroke-width="1.45"/>
<text x="566.9" y="258.19" font-size="8.4" text-anchor="middle" fill="#000" stroke="#000" stroke-width="0.08">***</text>
<path d="M622.6 277V275.5H660.4V277" fill="none" stroke="#0a0a0a" stroke-width="1.45"/>
<text x="642.5" y="274.49" font-size="8.4" text-anchor="middle" fill="#000" stroke="#000" stroke-width="0.08">***</text>
<path d="M509.2 292.6V291.1H547V292.6" fill="none" stroke="#0a0a0a" stroke-width="1.45"/>
<text x="529.1" y="290.09" font-size="8.4" text-anchor="middle" fill="#000" stroke="#000" stroke-width="0.08">**</text>
<path d="M547 308.5V307H660.4V308.5" fill="none" stroke="#0a0a0a" stroke-width="1.45"/>
<text x="604.7" y="305.99" font-size="8.4" text-anchor="middle" fill="#000" stroke="#000" stroke-width="0.08">***</text>
<path d="M547 324.3V322.8H622.6V324.3" fill="none" stroke="#0a0a0a" stroke-width="1.45"/>
<text x="585.3" y="320.55" font-size="6.0" text-anchor="middle" fill="#000" stroke="#000" stroke-width="0">NS.</text>
<path d="M509.2 339.8V338.3H584.8V339.8" fill="none" stroke="#0a0a0a" stroke-width="1.45"/>
<text x="547.5" y="336.05" font-size="6.0" text-anchor="middle" fill="#000" stroke="#000" stroke-width="0">NS.</text>
<path d="M584.8 355.1V353.6H660.4V355.1" fill="none" stroke="#0a0a0a" stroke-width="1.45"/>
<text x="623.6" y="352.59" font-size="8.4" text-anchor="middle" fill="#000" stroke="#000" stroke-width="0.08">**</text>
<path d="M584.8 370.7V369.2H622.6V370.7" fill="none" stroke="#0a0a0a" stroke-width="1.45"/>
<text x="604.7" y="368.19" font-size="8.4" text-anchor="middle" fill="#000" stroke="#000" stroke-width="0.08">***</text>
<path d="M547 386.3V384.8H584.8V386.3" fill="none" stroke="#0a0a0a" stroke-width="1.45"/>
<text x="566.9" y="383.79" font-size="8.4" text-anchor="middle" fill="#000" stroke="#000" stroke-width="0.08">***</text>
<text x="509.1" y="442.6" font-size="6.0" text-anchor="middle" fill="#111" stroke="#111" stroke-width="0.05">BRCA_Basal</text>
<text x="546.5" y="442.6" font-size="6.0" text-anchor="middle" fill="#111" stroke="#111" stroke-width="0.05">BRCA_Her2</text>
<text x="584.4" y="442.6" font-size="6.0" text-anchor="middle" fill="#111" stroke="#111" stroke-width="0.05">BRCA_LumA</text>
<text x="622" y="442.6" font-size="6.0" text-anchor="middle" fill="#111" stroke="#111" stroke-width="0.05">BRCA_LumB</text>
<text x="659.3" y="442.6" font-size="6.0" text-anchor="middle" fill="#111" stroke="#111" stroke-width="0.05">BRCA_Normal</text>
<text x="587" y="454.9" font-size="11" text-anchor="middle" fill="#0a0a0a" stroke="#0a0a0a" stroke-width="0.12">Subtype</text>
<text transform="translate(473 330.2) rotate(-90)" font-size="11.4" text-anchor="middle" fill="#0a0a0a" stroke="#0a0a0a" stroke-width="0.12">riskScore</text>
<rect x="486.5" y="234.7" width="196.1" height="200" fill="none" stroke="#383a3a" stroke-width="1.5"/>
<text x="21.2" y="470.35" font-size="8.1" text-anchor="end" fill="#111" stroke="#111" stroke-width="0.1">15</text>
<line x1="21.3" y1="467.4" x2="22.9" y2="467.4" stroke="#444" stroke-width="0.6"/>
<text x="21.2" y="526.35" font-size="8.1" text-anchor="end" fill="#111" stroke="#111" stroke-width="0.1">10</text>
<line x1="21.3" y1="523.4" x2="22.9" y2="523.4" stroke="#444" stroke-width="0.6"/>
<text x="21.2" y="582.45" font-size="8.1" text-anchor="end" fill="#111" stroke="#111" stroke-width="0.1">5</text>
<line x1="21.3" y1="579.5" x2="22.9" y2="579.5" stroke="#444" stroke-width="0.6"/>
<text x="21.2" y="638.45" font-size="8.1" text-anchor="end" fill="#111" stroke="#111" stroke-width="0.1">0</text>
<line x1="21.3" y1="635.5" x2="22.9" y2="635.5" stroke="#444" stroke-width="0.6"/>
<line x1="51.3" y1="615.4" x2="51.3" y2="622.6" stroke="#333333" stroke-width="1.5"/>
<line x1="51.3" y1="628.5" x2="51.3" y2="633.4" stroke="#333333" stroke-width="1.5"/>
<rect x="33.3" y="622.6" width="35.7" height="5.9" fill="#61B89D" stroke="#333333" stroke-width="1.25"/>
<line x1="33.3" y1="626.2" x2="69" y2="626.2" stroke="#333333" stroke-width="1.4"/>
<line x1="51.3" y1="642.4" x2="51.3" y2="644" stroke="#444" stroke-width="0.6"/>
<line x1="98.2" y1="609" x2="98.2" y2="620.2" stroke="#333333" stroke-width="1.5"/>
<line x1="98.2" y1="628.3" x2="98.2" y2="634.3" stroke="#333333" stroke-width="1.5"/>
<rect x="80.5" y="620.2" width="35.4" height="8.1" fill="#F08962" stroke="#333333" stroke-width="1.25"/>
<line x1="80.5" y1="625.3" x2="115.9" y2="625.3" stroke="#333333" stroke-width="1.4"/>
<line x1="98.2" y1="642.4" x2="98.2" y2="644" stroke="#444" stroke-width="0.6"/>
<line x1="145.1" y1="616.3" x2="145.1" y2="622.9" stroke="#333333" stroke-width="1.5"/>
<line x1="145.1" y1="629.4" x2="145.1" y2="632.1" stroke="#333333" stroke-width="1.5"/>
<rect x="127.5" y="622.9" width="35.7" height="6.5" fill="#8699C8" stroke="#333333" stroke-width="1.25"/>
<line x1="127.5" y1="626.5" x2="163.2" y2="626.5" stroke="#333333" stroke-width="1.4"/>
<line x1="145.1" y1="642.4" x2="145.1" y2="644" stroke="#444" stroke-width="0.6"/>
<line x1="192.2" y1="609.1" x2="192.2" y2="617.2" stroke="#333333" stroke-width="1.5"/>
<line x1="192.2" y1="624.4" x2="192.2" y2="632.1" stroke="#333333" stroke-width="1.5"/>
<rect x="174.3" y="617.2" width="35.7" height="7.2" fill="#E085BA" stroke="#333333" stroke-width="1.25"/>
<line x1="174.3" y1="621.7" x2="210" y2="621.7" stroke="#333333" stroke-width="1.4"/>
<line x1="192.2" y1="642.4" x2="192.2" y2="644" stroke="#444" stroke-width="0.6"/>
<circle cx="51.3" cy="555.9" r="1.5" fill="#2b2b2b"/>
<circle cx="51.3" cy="590.1" r="1.5" fill="#2b2b2b"/>
<circle cx="51.3" cy="601" r="1.5" fill="#2b2b2b"/>
<circle cx="51.3" cy="602.8" r="1.5" fill="#2b2b2b"/>
<circle cx="51.3" cy="606.9" r="1.5" fill="#2b2b2b"/>
<circle cx="51.3" cy="610" r="1.5" fill="#2b2b2b"/>
<circle cx="51.3" cy="611.5" r="1.5" fill="#2b2b2b"/>
<circle cx="51.3" cy="613" r="1.5" fill="#2b2b2b"/>
<circle cx="51.3" cy="614.5" r="1.5" fill="#2b2b2b"/>
<circle cx="98.2" cy="568" r="1.5" fill="#2b2b2b"/>
<circle cx="98.2" cy="570.3" r="1.5" fill="#2b2b2b"/>
<circle cx="98.2" cy="588.3" r="1.5" fill="#2b2b2b"/>
<circle cx="98.2" cy="592" r="1.5" fill="#2b2b2b"/>
<circle cx="98.2" cy="595" r="1.5" fill="#2b2b2b"/>
<circle cx="98.2" cy="598" r="1.5" fill="#2b2b2b"/>
<circle cx="98.2" cy="599.3" r="1.5" fill="#2b2b2b"/>
<circle cx="98.2" cy="600.6" r="1.5" fill="#2b2b2b"/>
<circle cx="98.2" cy="601.9" r="1.5" fill="#2b2b2b"/>
<circle cx="98.2" cy="603.2" r="1.5" fill="#2b2b2b"/>
<circle cx="98.2" cy="604.5" r="1.5" fill="#2b2b2b"/>
<circle cx="98.2" cy="605.8" r="1.5" fill="#2b2b2b"/>
<circle cx="98.2" cy="607.1" r="1.5" fill="#2b2b2b"/>
<circle cx="98.2" cy="608.4" r="1.5" fill="#2b2b2b"/>
<circle cx="145.1" cy="598.3" r="1.5" fill="#2b2b2b"/>
<circle cx="145.1" cy="605.5" r="1.5" fill="#2b2b2b"/>
<circle cx="145.1" cy="608" r="1.5" fill="#2b2b2b"/>
<circle cx="145.1" cy="610.8" r="1.5" fill="#2b2b2b"/>
<circle cx="145.1" cy="613.6" r="1.5" fill="#2b2b2b"/>
<circle cx="192.2" cy="587.8" r="1.5" fill="#2b2b2b"/>
<circle cx="192.2" cy="599.5" r="1.5" fill="#2b2b2b"/>
<path d="M51.3 555.7V552.7H98.2V555.7" fill="none" stroke="#0a0a0a" stroke-width="1.45"/>
<text x="76.45" y="551.79" font-size="8.4" text-anchor="middle" fill="#000" stroke="#000" stroke-width="0.08">**</text>
<path d="M98.2 540.3V537.3H145.1V540.3" fill="none" stroke="#0a0a0a" stroke-width="1.45"/>
<text x="123.35" y="536.39" font-size="8.4" text-anchor="middle" fill="#000" stroke="#000" stroke-width="0.08">**</text>
<path d="M98.2 524.7V521.7H192.2V524.7" fill="none" stroke="#0a0a0a" stroke-width="1.45"/>
<text x="147.55" y="520.79" font-size="8.4" text-anchor="middle" fill="#000" stroke="#000" stroke-width="0.08">***</text>
<path d="M51.3 509V506H145.1V509" fill="none" stroke="#0a0a0a" stroke-width="1.45"/>
<text x="99.5" y="504.3" font-size="6.7" text-anchor="middle" fill="#000" stroke="#000" stroke-width="0">NS.</text>
<path d="M51.3 492.9V489.9H192.2V492.9" fill="none" stroke="#0a0a0a" stroke-width="1.45"/>
<text x="124.1" y="488.99" font-size="8.4" text-anchor="middle" fill="#000" stroke="#000" stroke-width="0.08">***</text>
<path d="M145.1 477.2V474.2H192.2V477.2" fill="none" stroke="#0a0a0a" stroke-width="1.45"/>
<text x="170.9" y="473.79" font-size="8.4" text-anchor="middle" fill="#000" stroke="#000" stroke-width="0.08">***</text>
<text x="53.2" y="651.4" font-size="9" text-anchor="middle" fill="#111" stroke="#111" stroke-width="0.1">T1</text>
<text x="99.6" y="651.4" font-size="9" text-anchor="middle" fill="#111" stroke="#111" stroke-width="0.1">T2</text>
<text x="147.3" y="651.4" font-size="9" text-anchor="middle" fill="#111" stroke="#111" stroke-width="0.1">T3</text>
<text x="194.1" y="651.4" font-size="9" text-anchor="middle" fill="#111" stroke="#111" stroke-width="0.1">T4</text>
<text x="125.9" y="661.5" font-size="12.3" text-anchor="middle" fill="#0a0a0a" stroke="#0a0a0a" stroke-width="0.12">T_stage</text>
<text transform="translate(13.2 553.2) rotate(-90)" font-size="11.4" text-anchor="middle" fill="#0a0a0a" stroke="#0a0a0a" stroke-width="0.12">riskScore</text>
<rect x="22.9" y="466.6" width="197.4" height="175.8" fill="none" stroke="#383a3a" stroke-width="1.5"/>
<text x="254.4" y="641.35" font-size="8.1" text-anchor="end" fill="#111" stroke="#111" stroke-width="0.1">0</text>
<line x1="254.9" y1="638.4" x2="256.5" y2="638.4" stroke="#444" stroke-width="0.6"/>
<text x="254.4" y="597.25" font-size="8.1" text-anchor="end" fill="#111" stroke="#111" stroke-width="0.1">2</text>
<line x1="254.9" y1="594.3" x2="256.5" y2="594.3" stroke="#444" stroke-width="0.6"/>
<text x="254.4" y="553.25" font-size="8.1" text-anchor="end" fill="#111" stroke="#111" stroke-width="0.1">4</text>
<line x1="254.9" y1="550.3" x2="256.5" y2="550.3" stroke="#444" stroke-width="0.6"/>
<text x="254.4" y="509.25" font-size="8.1" text-anchor="end" fill="#111" stroke="#111" stroke-width="0.1">6</text>
<line x1="254.9" y1="506.3" x2="256.5" y2="506.3" stroke="#444" stroke-width="0.6"/>
<line x1="310.3" y1="591" x2="310.3" y2="610" stroke="#333333" stroke-width="1.5"/>
<line x1="310.3" y1="623.5" x2="310.3" y2="634.6" stroke="#333333" stroke-width="1.5"/>
<rect x="276.4" y="610" width="67.9" height="13.5" fill="#61B89D" stroke="#333333" stroke-width="1.25"/>
<line x1="276.4" y1="618.1" x2="344.3" y2="618.1" stroke="#333333" stroke-width="2.5"/>
<line x1="310.3" y1="642.9" x2="310.3" y2="644.5" stroke="#444" stroke-width="0.6"/>
<line x1="400.2" y1="573" x2="400.2" y2="602.8" stroke="#333333" stroke-width="1.5"/>
<line x1="400.2" y1="621.7" x2="400.2" y2="630.7" stroke="#333333" stroke-width="1.5"/>
<rect x="366.5" y="602.8" width="68" height="18.9" fill="#F08962" stroke="#333333" stroke-width="1.25"/>
<line x1="366.5" y1="614.1" x2="434.5" y2="614.1" stroke="#333333" stroke-width="2.5"/>
<line x1="400.2" y1="642.9" x2="400.2" y2="644.5" stroke="#444" stroke-width="0.6"/>
<circle cx="310.3" cy="482.3" r="1.55" fill="#2b2b2b"/>
<circle cx="310.3" cy="510.6" r="1.55" fill="#2b2b2b"/>
<circle cx="310.3" cy="544" r="1.55" fill="#2b2b2b"/>
<circle cx="310.3" cy="546" r="1.55" fill="#2b2b2b"/>
<circle cx="310.3" cy="548.5" r="1.55" fill="#2b2b2b"/>
<circle cx="310.3" cy="552" r="1.55" fill="#2b2b2b"/>
<circle cx="310.3" cy="558.6" r="1.55" fill="#2b2b2b"/>
<circle cx="310.3" cy="565" r="1.55" fill="#2b2b2b"/>
<circle cx="310.3" cy="566.3" r="1.55" fill="#2b2b2b"/>
<circle cx="310.3" cy="567.6" r="1.55" fill="#2b2b2b"/>
<circle cx="310.3" cy="568.9" r="1.55" fill="#2b2b2b"/>
<circle cx="310.3" cy="570.2" r="1.55" fill="#2b2b2b"/>
<circle cx="310.3" cy="571.5" r="1.55" fill="#2b2b2b"/>
<circle cx="310.3" cy="572.8" r="1.55" fill="#2b2b2b"/>
<circle cx="310.3" cy="574.1" r="1.55" fill="#2b2b2b"/>
<circle cx="310.3" cy="575.4" r="1.55" fill="#2b2b2b"/>
<circle cx="310.3" cy="576.7" r="1.55" fill="#2b2b2b"/>
<circle cx="310.3" cy="578" r="1.55" fill="#2b2b2b"/>
<circle cx="310.3" cy="579.3" r="1.55" fill="#2b2b2b"/>
<circle cx="310.3" cy="580.6" r="1.55" fill="#2b2b2b"/>
<circle cx="310.3" cy="581.9" r="1.55" fill="#2b2b2b"/>
<circle cx="310.3" cy="583.2" r="1.55" fill="#2b2b2b"/>
<circle cx="310.3" cy="584.5" r="1.55" fill="#2b2b2b"/>
<circle cx="310.3" cy="585.8" r="1.55" fill="#2b2b2b"/>
<circle cx="310.3" cy="587.1" r="1.55" fill="#2b2b2b"/>
<circle cx="310.3" cy="588.4" r="1.55" fill="#2b2b2b"/>
<circle cx="310.3" cy="589.7" r="1.55" fill="#2b2b2b"/>
<circle cx="310.3" cy="591" r="1.55" fill="#2b2b2b"/>
<circle cx="400.2" cy="505.2" r="1.55" fill="#2b2b2b"/>
<circle cx="400.2" cy="543.6" r="1.55" fill="#2b2b2b"/>
<circle cx="400.2" cy="558" r="1.55" fill="#2b2b2b"/>
<circle cx="400.2" cy="564" r="1.55" fill="#2b2b2b"/>
<circle cx="400.2" cy="572" r="1.55" fill="#2b2b2b"/>
<circle cx="400.2" cy="573.5" r="1.55" fill="#2b2b2b"/>
<path d="M310.3 480.1V474.7H400.2V480.1" fill="none" stroke="#0a0a0a" stroke-width="1.45"/>
<text x="356" y="473.12" font-size="6.7" text-anchor="middle" fill="#000" stroke="#000" stroke-width="0.08">***</text>
<text x="309.3" y="652.3" font-size="9" text-anchor="middle" fill="#111" stroke="#111" stroke-width="0.1">Alive</text>
<text x="400.4" y="652.3" font-size="9" text-anchor="middle" fill="#111" stroke="#111" stroke-width="0.1">Dead</text>
<text x="354.5" y="661.5" font-size="12.3" text-anchor="middle" fill="#0a0a0a" stroke="#0a0a0a" stroke-width="0.12">vital</text>
<text transform="translate(243.6 549.3) rotate(-90)" font-size="11.4" text-anchor="middle" fill="#0a0a0a" stroke="#0a0a0a" stroke-width="0.12">riskScore</text>
<rect x="256.5" y="466.9" width="198" height="176" fill="none" stroke="#383a3a" stroke-width="1.5"/>
</svg>
</body></html>
